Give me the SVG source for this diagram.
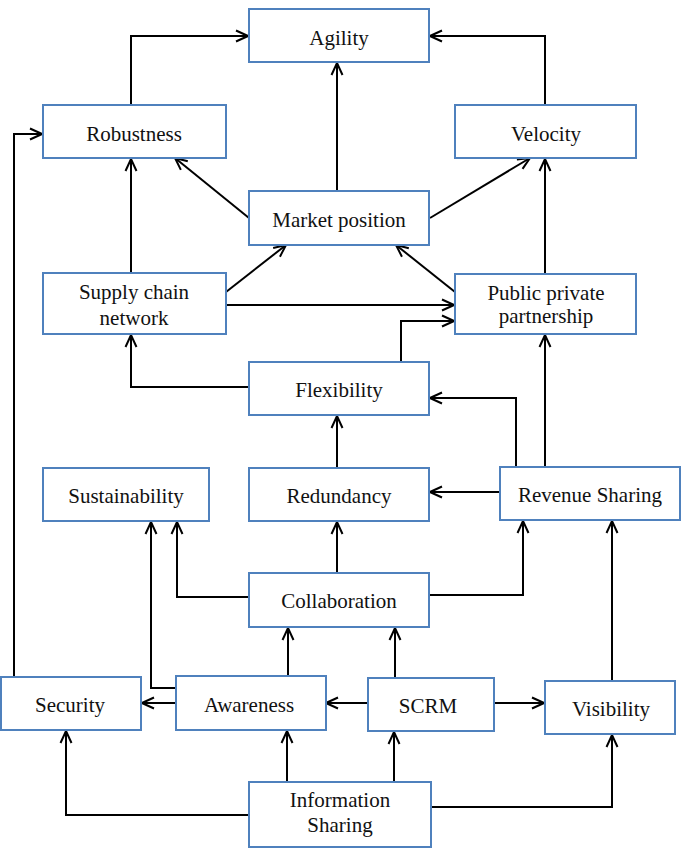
<svg xmlns="http://www.w3.org/2000/svg" width="685" height="848" viewBox="0 0 685 848">
<defs>
<marker id="ah" viewBox="0 0 14 14" refX="13" refY="7" markerWidth="14" markerHeight="14" markerUnits="userSpaceOnUse" orient="auto">
<path d="M1,1.5 L13,7 L1,12.5" fill="none" stroke="#000" stroke-width="2"/>
</marker>
<style>
.box rect{fill:#fff;stroke:#4f81bd;stroke-width:2}
.box text{font-family:"Liberation Serif","DejaVu Serif",serif;font-size:21px;fill:#111;text-anchor:middle}
#connectors path{fill:none;stroke:#000;stroke-width:2;marker-end:url(#ah)}
</style>
</defs>
<rect width="685" height="848" fill="#fff"/>
<g id="connectors">
<path d="M131,105 V36 H248"/>
<path d="M545,105 V36 H430"/>
<path d="M337,191 V63"/>
<path d="M249,218 L175,158"/>
<path d="M430,218 L530,158"/>
<path d="M131,273 V159"/>
<path d="M545,274 V159"/>
<path d="M226,292 L286,245"/>
<path d="M455,292 L396,245"/>
<path d="M227,305 H454"/>
<path d="M401,362 V321 H454"/>
<path d="M249,387 H131 V335"/>
<path d="M516,467 V398 H430"/>
<path d="M545,467 V335"/>
<path d="M500,492 H430"/>
<path d="M337,468 V416"/>
<path d="M337,573 V522"/>
<path d="M249,597 H177 V522"/>
<path d="M176,688 H151 V522"/>
<path d="M429,595 H523 V521"/>
<path d="M612,681 V521"/>
<path d="M288,676 V628"/>
<path d="M395,678 V628"/>
<path d="M176,703 H142"/>
<path d="M368,703 H326"/>
<path d="M494,703 H544"/>
<path d="M249,815 H66 V731"/>
<path d="M287,782 V731"/>
<path d="M394,782 V732"/>
<path d="M432,807 H612 V735"/>
<path d="M14,677 V134 H42"/>
</g>
<g id="agility" class="box"><rect x="249" y="9" width="180" height="53"/><text x="339" y="45">Agility</text></g>
<g id="robustness" class="box"><rect x="43" y="105" width="183" height="53"/><text x="134" y="141">Robustness</text></g>
<g id="velocity" class="box"><rect x="455" y="105" width="181" height="53"/><text x="546" y="141">Velocity</text></g>
<g id="market-position" class="box"><rect x="249" y="191" width="180" height="54"/><text x="339" y="227">Market position</text></g>
<g id="supply-chain-network" class="box"><rect x="43" y="273" width="183" height="61"/><text x="134" y="299">Supply chain</text><text x="134" y="325">network</text></g>
<g id="public-private-partnership" class="box"><rect x="455" y="274" width="181" height="60"/><text x="546" y="300">Public private</text><text x="546" y="323">partnership</text></g>
<g id="flexibility" class="box"><rect x="249" y="362" width="180" height="53"/><text x="339" y="397">Flexibility</text></g>
<g id="sustainability" class="box"><rect x="43" y="468" width="166" height="53"/><text x="126" y="503">Sustainability</text></g>
<g id="redundancy" class="box"><rect x="249" y="468" width="180" height="53"/><text x="339" y="503">Redundancy</text></g>
<g id="revenue-sharing" class="box"><rect x="500" y="467" width="180" height="53"/><text x="590" y="502">Revenue Sharing</text></g>
<g id="collaboration" class="box"><rect x="249" y="573" width="180" height="54"/><text x="339" y="608">Collaboration</text></g>
<g id="security" class="box"><rect x="1" y="677" width="140" height="53"/><text x="70" y="712">Security</text></g>
<g id="awareness" class="box"><rect x="176" y="676" width="150" height="54"/><text x="249" y="712">Awareness</text></g>
<g id="scrm" class="box"><rect x="368" y="678" width="126" height="53"/><text x="428" y="713">SCRM</text></g>
<g id="visibility" class="box"><rect x="545" y="681" width="130" height="53"/><text x="611" y="716">Visibility</text></g>
<g id="information-sharing" class="box"><rect x="249" y="782" width="182" height="65"/><text x="340" y="807">Information</text><text x="340" y="832">Sharing</text></g>
</svg>
